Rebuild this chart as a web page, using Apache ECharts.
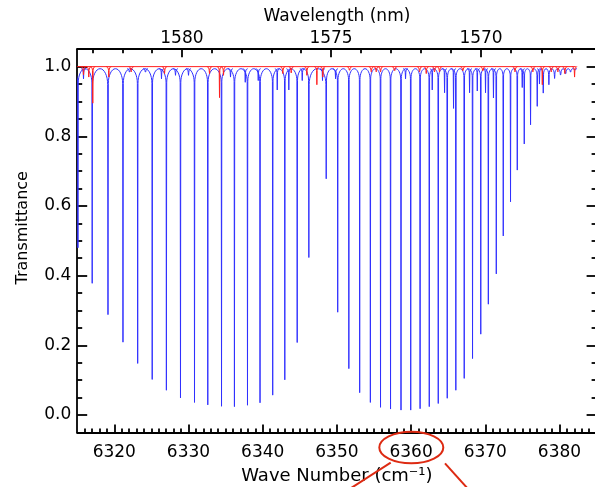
<!DOCTYPE html>
<html><head><meta charset="utf-8">
<script src="https://cdn.jsdelivr.net/npm/echarts@6/dist/echarts.min.js"></script>
<style>html,body{margin:0;padding:0;background:#fff}#c{width:595px;height:487px}</style>
</head><body><div id="c"></div>
<script>
// ---- data ----
const xTickLabels = [6320, 6330, 6340, 6350, 6360, 6370, 6380];
const yTickLabels = [0.0, 0.2, 0.4, 0.6, 0.8, 1.0];
const wavelengthTickLabels = [1580, 1575, 1570];
const wavelengthMinorTicks = [1583, 1582, 1581, 1579, 1578, 1577, 1576, 1574, 1573, 1572, 1571, 1569, 1568, 1567];

// strong CO2 lines (blue): centre wavenumber, minimum transmittance
const blueLineCenters = [6315.1, 6317.02, 6319.15, 6321.17, 6323.15, 6325.11, 6327.02, 6328.92, 6330.81, 6332.6,
  6334.45, 6336.19, 6337.95, 6339.64, 6341.35, 6342.98, 6344.65, 6346.22, 6348.56, 6350.11,
  6351.61, 6353.07, 6354.51, 6355.88, 6357.23, 6358.64, 6359.95, 6361.21, 6362.45, 6363.66,
  6364.87, 6366.03, 6367.16, 6368.28, 6369.39, 6370.41, 6371.48, 6372.42, 6373.4, 6374.31,
  6375.25, 6376.1, 6377.0, 6377.81, 6378.57, 6379.34, 6380.15, 6380.82, 6381.49, 6382.07];
const blueLineDepths = [0.48, 0.378, 0.288, 0.209, 0.148, 0.102, 0.071, 0.049, 0.036, 0.029,
  0.025, 0.024, 0.028, 0.035, 0.057, 0.101, 0.208, 0.452, 0.678, 0.295,
  0.133, 0.064, 0.036, 0.022, 0.017, 0.014, 0.014, 0.018, 0.024, 0.033,
  0.048, 0.071, 0.105, 0.162, 0.232, 0.318, 0.405, 0.514, 0.612, 0.703,
  0.778, 0.833, 0.886, 0.924, 0.948, 0.966, 0.976, 0.98, 0.985, 0.99];

// weak lines in the blue spectrum
const blueWeakCenters = [6315.85, 6322.05, 6324.2, 6326.36, 6328.25, 6330.0, 6335.66, 6337.65, 6339.4, 6341.96,
  6343.52, 6345.33, 6348.06, 6349.82, 6359.25, 6362.85, 6364.51, 6365.72, 6367.88, 6368.92,
  6370.03, 6371.1, 6374.98, 6377.3];
const blueWeakDepths = [0.965, 0.985, 0.985, 0.965, 0.975, 0.975, 0.97, 0.955, 0.96, 0.933,
  0.933, 0.96, 0.96, 0.965, 0.965, 0.933, 0.925, 0.88, 0.925, 0.93,
  0.925, 0.91, 0.94, 0.95];

// red spectrum: baseline extent and its absorption lines
const redStart = 6315.0, redEnd = 6382.2, redLevel = 1.0;
const redLineCenters = [6315.85, 6316.56, 6317.1, 6319.26, 6322.28, 6326.77, 6332.83, 6334.18, 6334.72, 6342.71,
  6343.84, 6345.95, 6347.3, 6348.1, 6351.7, 6354.63, 6355.3, 6355.88, 6357.77, 6361.14,
  6362.04, 6363.16, 6363.83, 6366.97, 6369.67, 6374.0, 6376.41, 6377.68, 6378.89, 6379.78,
  6380.72, 6382.03];
const redLineDepths = [0.976, 0.97, 0.895, 0.97, 0.985, 0.98, 0.98, 0.911, 0.975, 0.98,
  0.982, 0.975, 0.948, 0.97, 0.99, 0.985, 0.985, 0.985, 0.988, 0.985,
  0.98, 0.985, 0.985, 0.988, 0.988, 0.985, 0.985, 0.948, 0.985, 0.985,
  0.98, 0.97];

// ---- chart ----
const FONT = 'DejaVu Sans';
const XMIN = 6315, XMAX = 6385, YMIN = -0.05, YMAX = 1.05;
const BLUE_TOP = 0.994;
const axisLine = {color: '#000', width: 1.8};

function range(a, b, s) { const r = []; for (let v = a; v <= b + 1e-9; v += s) r.push(+v.toFixed(4)); return r; }
const xMinor = range(XMIN + 1, XMAX - 1, 1).filter(v => v % 10 !== 0);
const yMinor = range(0, 1.0, 0.05).filter(v => Math.abs(v * 5 - Math.round(v * 5)) > 1e-6);

// half widths from neighbour spacing
const blueData = blueLineCenters.map((c, i) => {
  const prev = i > 0 ? c - blueLineCenters[i - 1] : blueLineCenters[1] - c;
  const next = i < blueLineCenters.length - 1 ? blueLineCenters[i + 1] - c : prev;
  return [c, blueLineDepths[i], Math.min(prev / 2, 1.1), Math.min(next / 2, 1.1)];
});
const weakData = blueWeakCenters.map((c, i) => [c, blueWeakDepths[i], 0.32, 0.32]);
const redData = redLineCenters.map((c, i) => [c, redLineDepths[i], 0.35, 0.35]);

// dip profile: rounded shoulders (quarter ellipses) joining a narrow core
function dipPath(api, top, dropFactor, dropMax) {
  const c = api.value(0), d = api.value(1), hl = api.value(2), hr = api.value(3);
  const pc = api.coord([c, top]);
  const pb = api.coord([c, d]);
  const xl = api.coord([c - hl, top])[0];
  const xr = api.coord([c + hr, top])[0];
  const xc = pc[0], y0 = pc[1];
  const yb = Math.max(pb[1], y0 + 0.5);
  const e = 0.3;
  const k = 0.5523;
  const dl = Math.min(yb - y0, Math.min(dropMax, (xc - xl) * dropFactor));
  const dr = Math.min(yb - y0, Math.min(dropMax, (xr - xc) * dropFactor));
  const al = (xc - e) - xl, ar = xr - (xc + e);
  return 'M' + xl + ' ' + y0 +
    ' C' + (xl + k * al) + ' ' + y0 + ' ' + (xc - e) + ' ' + (y0 + dl - k * dl) + ' ' + (xc - e) + ' ' + (y0 + dl) +
    ' L' + xc + ' ' + yb +
    ' L' + (xc + e) + ' ' + (y0 + dr) +
    ' C' + (xc + e) + ' ' + (y0 + dr - k * dr) + ' ' + (xr - k * ar) + ' ' + y0 + ' ' + xr + ' ' + y0;
}

function tickAxis(pos, customValues, length, extra) {
  const vertical = (pos === 'left' || pos === 'right');
  return Object.assign({
    type: 'value', position: pos, min: vertical ? YMIN : XMIN, max: vertical ? YMAX : XMAX,
    axisLine: {show: false, onZero: false},
    axisTick: {show: true, inside: true, length: length, customValues: customValues, lineStyle: axisLine},
    axisLabel: {show: false}, splitLine: {show: false}
  }, extra || {});
}

const labelStyle = {fontFamily: FONT, fontSize: 17, color: '#000'};

const option = {
  animation: false,
  backgroundColor: '#fff',
  grid: {left: 77.2, top: 49.2, width: 519.4, height: 383.2, containLabel: false, outerBoundsMode: 'none'},
  xAxis: [
    tickAxis('bottom', xTickLabels, 8, {
      axisLine: {show: true, onZero: false, lineStyle: axisLine},
      axisLabel: Object.assign({show: true, customValues: xTickLabels, margin: 12, formatter: v => String(Math.round(v))}, labelStyle),
      name: 'Wave Number (cm\u207B\u00B9)', nameLocation: 'middle', nameGap: 35,
      nameTextStyle: Object.assign({}, labelStyle, {fontSize: 18})
    }),
    tickAxis('bottom', xMinor, 4),
    tickAxis('top', wavelengthTickLabels.map(l => 1e7 / l), 8, {
      axisLine: {show: true, onZero: false, lineStyle: axisLine},
      axisLabel: Object.assign({show: true, customValues: wavelengthTickLabels.map(l => 1e7 / l), margin: 2,
        formatter: v => String(Math.round(1e7 / v))}, labelStyle),
      name: 'Wavelength (nm)', nameLocation: 'middle', nameGap: 14, nameTextStyle: labelStyle
    }),
    tickAxis('top', wavelengthMinorTicks.map(l => 1e7 / l), 4)
  ],
  yAxis: [
    tickAxis('left', yTickLabels, 10, {
      axisLine: {show: true, onZero: false, lineStyle: axisLine},
      axisLabel: Object.assign({show: true, customValues: yTickLabels, margin: 6, formatter: v => v.toFixed(1)}, labelStyle),
      name: 'Transmittance', nameLocation: 'middle', nameRotate: 90, nameGap: 46,
      nameTextStyle: Object.assign({padding: [0, 0, 0, 26]}, labelStyle, {fontSize: 16})
    }),
    tickAxis('left', yMinor, 5),
    tickAxis('right', yTickLabels, 10, {axisLine: {show: true, onZero: false, lineStyle: axisLine}}),
    tickAxis('right', yMinor, 5)
  ],
  series: [
    {
      type: 'custom', name: 'blue', xAxisIndex: 0, yAxisIndex: 0, clip: true, silent: true,
      data: blueData,
      renderItem: (params, api) => ({
        type: 'path', shape: {pathData: dipPath(api, BLUE_TOP, 2.0, 16)},
        style: {stroke: '#3030ff', fill: 'none', lineWidth: 1}
      })
    },
    {
      type: 'custom', name: 'blueWeak', xAxisIndex: 0, yAxisIndex: 0, clip: true, silent: true,
      data: weakData,
      renderItem: (params, api) => ({
        type: 'path', shape: {pathData: dipPath(api, BLUE_TOP, 1.5, 4)},
        style: {stroke: '#3030ff', fill: 'none', lineWidth: 1}
      })
    },
    {
      type: 'line', name: 'redBase', xAxisIndex: 0, yAxisIndex: 0, symbol: 'none', silent: true,
      data: [[redStart, redLevel], [redEnd, redLevel]],
      lineStyle: {color: '#ff2020', width: 1}, z: 3
    },
    {
      type: 'custom', name: 'red', xAxisIndex: 0, yAxisIndex: 0, clip: true, silent: true, z: 4,
      data: redData,
      renderItem: (params, api) => ({
        type: 'path', shape: {pathData: dipPath(api, redLevel, 1.5, 4)},
        style: {stroke: '#ff2020', fill: 'none', lineWidth: 1}
      })
    }
  ],
  graphic: [
    {type: 'ellipse', shape: {cx: 411.3, cy: 447.5, rx: 32, ry: 15.8},
      style: {stroke: '#dd2a12', fill: 'none', lineWidth: 2}, z: 100},
    {type: 'line', shape: {x1: 390.7, y1: 462.7, x2: 348, y2: 490},
      style: {stroke: '#dd2a12', lineWidth: 2}, z: 100},
    {type: 'line', shape: {x1: 445, y1: 463.3, x2: 469, y2: 490},
      style: {stroke: '#dd2a12', lineWidth: 2}, z: 100}
  ]
};

const chart = echarts.init(document.getElementById('c'), null, {renderer: 'canvas'});
chart.setOption(option);
</script>
</body></html>
